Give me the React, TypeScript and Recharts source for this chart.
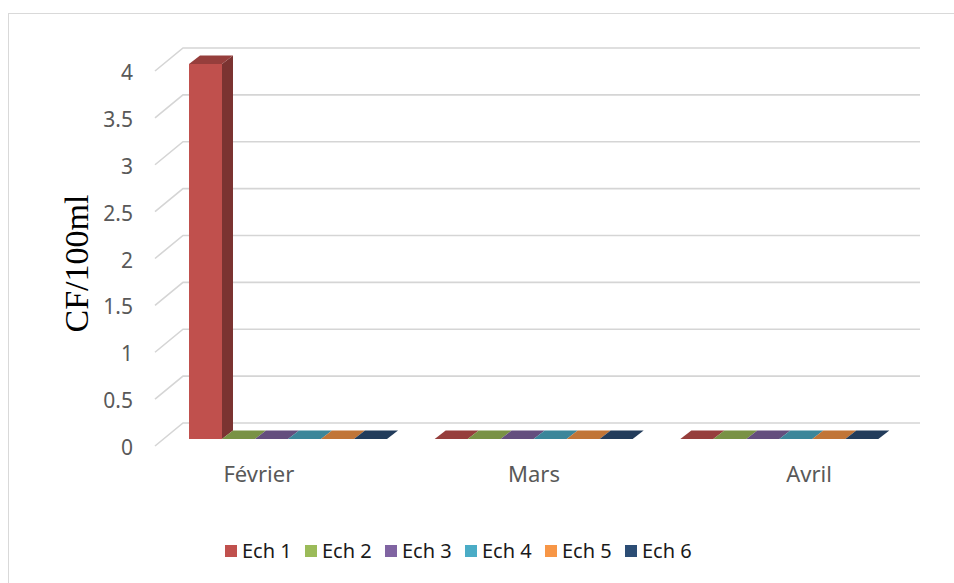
import React from 'react';
import { BarChart, Bar, XAxis, YAxis, CartesianGrid, Legend } from 'recharts';

const categories = ['Février', 'Mars', 'Avril'];
const seriesNames = ['Ech 1', 'Ech 2', 'Ech 3', 'Ech 4', 'Ech 5', 'Ech 6'];
const ech1 = [4, 0, 0];
const ech2 = [0, 0, 0];
const ech3 = [0, 0, 0];
const ech4 = [0, 0, 0];
const ech5 = [0, 0, 0];
const ech6 = [0, 0, 0];
const yTicks = [0, 0.5, 1, 1.5, 2, 2.5, 3, 3.5, 4];
const seriesColors = ['#C0504D', '#9BBB59', '#8064A2', '#4BACC6', '#F79646', '#2C4D75'];
const yTitle = 'CF/100ml';

const seriesValues = [ech1, ech2, ech3, ech4, ech5, ech6];
const data = categories.map((month, i) => {
  const row: Record<string, any> = { month };
  seriesNames.forEach((s, k) => {
    row[s] = seriesValues[k][i];
  });
  return row;
});

const FONT = '"Noto Sans", "Open Sans", sans-serif';
const BAR_DX = 11;
const BAR_DY = 8.5;
const WALL_DX = 18;
const WALL_DY = 16;
const FRONT_DX = -10;
const FRONT_DY = 7;

function shade(hex: string, f: number) {
  const n = parseInt(hex.slice(1), 16);
  const r = Math.round(((n >> 16) & 255) * f);
  const g = Math.round(((n >> 8) & 255) * f);
  const b = Math.round((n & 255) * f);
  return `rgb(${r},${g},${b})`;
}

const makeShape = (key: string, color: string) => (p: any) => {
  const { x, y, width, height } = p;
  const v = p.payload ? p.payload[key] : 0;
  const base = y + height;
  const top = v > 0 ? y : base;
  const w = width;
  const topFace = `${x},${top} ${x + BAR_DX},${top - BAR_DY} ${x + w + BAR_DX},${top - BAR_DY} ${x + w},${top}`;
  return (
    <g>
      {v > 0 && (
        <polygon
          points={`${x + w},${top} ${x + w + BAR_DX},${top - BAR_DY} ${x + w + BAR_DX},${base - BAR_DY} ${x + w},${base}`}
          fill={shade(color, 0.64)}
        />
      )}
      {v > 0 && <rect x={x} y={top} width={w} height={base - top} fill={color} />}
      <polygon points={topFace} fill={shade(color, 0.78)} />
    </g>
  );
};

const gridLine = (p: any) => {
  const { x1, x2, y1 } = p;
  return (
    <polyline
      key={`gl-${p.index}-${y1}`}
      points={`${x1 + FRONT_DX},${y1 + FRONT_DY} ${x1 + WALL_DX},${y1 - WALL_DY} ${x2 + WALL_DX},${y1 - WALL_DY}`}
      fill="none"
      stroke="#D5D5D5"
      strokeWidth={1.6}
    />
  );
};

const YTick = (p: any) => (
  <text
    x={p.x - 32}
    y={p.y + 8}
    textAnchor="end"
    dominantBaseline="central"
    fill="#595959"
    fontSize={21}
    fontFamily={FONT}
  >
    {p.payload.value}
  </text>
);

const XTick = (p: any) => {
  const cx = 534 + (p.x - 533.5) * 1.12;
  return (
    <text x={cx} y={p.y + 43} textAnchor="middle" fill="#595959" fontSize={22} fontFamily={FONT}>
      {p.payload.value}
    </text>
  );
};

const YTitle = (p: any) => {
  const vb = p.viewBox || { x: 0, y: 64, width: 165, height: 375 };
  const cx = 76;
  const cy = vb.y + vb.height / 2 + 12;
  return (
    <text
      x={cx}
      y={cy}
      transform={`rotate(-90, ${cx}, ${cy})`}
      textAnchor="middle"
      dominantBaseline="central"
      fill="#000"
      fontSize={34}
      fontFamily='"Liberation Serif", "Times New Roman", serif'
    >
      {yTitle}
    </text>
  );
};

const LegendContent = (props: any) => {
  const items = props.payload || [];
  return (
    <div style={{ display: 'flex', fontFamily: FONT, fontSize: 20, color: '#1a1a1a' }}>
      {items.map((it: any) => (
        <div key={it.value} style={{ display: 'flex', alignItems: 'center', width: 80 }}>
          <span style={{ display: 'inline-block', width: 12, height: 12, background: it.color, marginRight: 5 }} />
          <span style={{ lineHeight: '20px' }}>{it.value}</span>
        </div>
      ))}
    </div>
  );
};

export default function App() {
  return (
    <div style={{ position: 'absolute', left: 0, top: 0, width: 954, height: 583, background: '#fff' }}>
      <div
        style={{
          position: 'absolute',
          left: 8,
          top: 13,
          width: 946,
          height: 570,
          boxSizing: 'border-box',
          borderLeft: '1.5px solid #D9D9D9',
          borderTop: '1.5px solid #D9D9D9',
        }}
      />
      <BarChart
        width={954}
        height={583}
        data={data}
        margin={{ top: 64, right: 52, left: 0, bottom: 84 }}
        barGap={0}
        style={{ position: 'absolute', left: 0, top: 0 }}
      >
        <CartesianGrid vertical={false} horizontal={gridLine} />
        <XAxis
          dataKey="month"
          axisLine={false}
          tickLine={false}
          tickSize={0}
          tickMargin={0}
          height={60}
          interval={0}
          tick={<XTick />}
        />
        <YAxis
          domain={[0, 4]}
          ticks={yTicks}
          axisLine={false}
          tickLine={false}
          tickSize={0}
          tickMargin={0}
          width={165}
          tick={<YTick />}
          label={<YTitle />}
        />
        <Legend
          layout="horizontal"
          verticalAlign="middle"
          align="center"
          wrapperStyle={{ left: 225, top: 541, width: 520, height: 20 }}
          content={<LegendContent />}
        />
        {seriesNames.map((s, k) => (
          <Bar
            key={s}
            dataKey={s}
            fill={seriesColors[k]}
            barSize={33}
            minPointSize={0.01}
            isAnimationActive={false}
            shape={makeShape(s, seriesColors[k])}
          />
        ))}
      </BarChart>
    </div>
  );
}
